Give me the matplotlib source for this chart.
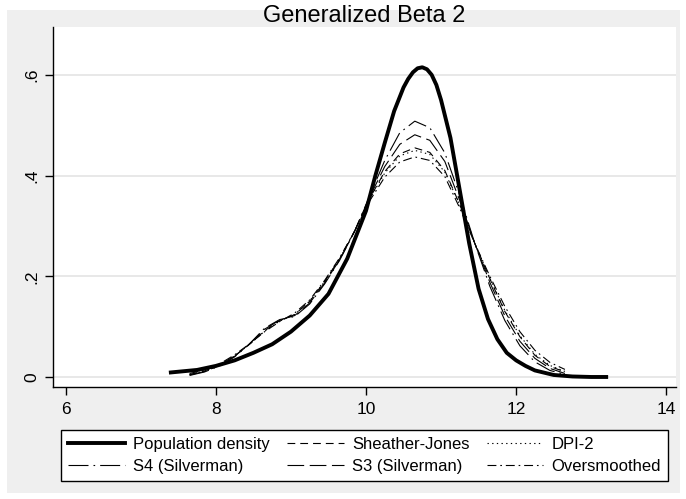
import matplotlib
matplotlib.use("Agg")
import matplotlib.pyplot as plt
from matplotlib.patches import Rectangle

plt.rcParams['font.family'] = ['Liberation Sans', 'DejaVu Sans']

# population density
pop_x = [7.4, 7.75, 8.0, 8.25, 8.5, 8.75, 9.0, 9.25, 9.5, 9.75, 10.0, 10.125, 10.25,
         10.375, 10.5, 10.5625, 10.625, 10.6875, 10.75, 10.8125, 10.875, 10.9375,
         11.0, 11.125, 11.25, 11.375, 11.5, 11.625, 11.75, 11.875, 12.0, 12.125,
         12.25, 12.5, 12.75, 13.0, 13.2]
pop_y = [0.009, 0.014, 0.022, 0.033, 0.048, 0.065, 0.090, 0.122, 0.165, 0.235, 0.330,
         0.400, 0.465, 0.528, 0.575, 0.592, 0.605, 0.613, 0.615, 0.611, 0.600, 0.580,
         0.550, 0.475, 0.370, 0.265, 0.175, 0.115, 0.075, 0.048, 0.033, 0.022,
         0.013, 0.004, 0.001, 0.0, 0.0]

# kernel estimates, common grid
kx = [7.65, 7.85, 8.05, 8.25, 8.45, 8.65, 8.85, 9.05, 9.25, 9.45, 9.65, 9.85, 10.05,
      10.25, 10.45, 10.65, 10.85, 11.05, 11.25, 11.45, 11.65, 11.85, 12.05, 12.25,
      12.45, 12.65]
sj = [0.005, 0.012, 0.024, 0.042, 0.065, 0.092, 0.112, 0.124, 0.150, 0.190, 0.235,
      0.290, 0.355, 0.408, 0.443, 0.455, 0.446, 0.410, 0.342, 0.265, 0.195, 0.130,
      0.080, 0.043, 0.021, 0.010]
dpi2 = [0.005, 0.012, 0.024, 0.042, 0.065, 0.091, 0.111, 0.124, 0.151, 0.190, 0.235,
        0.290, 0.354, 0.405, 0.439, 0.450, 0.442, 0.407, 0.341, 0.265, 0.196, 0.132,
        0.082, 0.045, 0.023, 0.011]
s4 = [0.003, 0.010, 0.022, 0.040, 0.066, 0.097, 0.114, 0.120, 0.145, 0.185, 0.232,
      0.290, 0.360, 0.430, 0.485, 0.508, 0.495, 0.445, 0.360, 0.265, 0.180, 0.112,
      0.062, 0.030, 0.013, 0.005]
s3 = [0.004, 0.011, 0.023, 0.041, 0.066, 0.095, 0.113, 0.122, 0.147, 0.187, 0.233,
      0.290, 0.358, 0.418, 0.462, 0.481, 0.470, 0.428, 0.350, 0.265, 0.188, 0.121,
      0.071, 0.037, 0.017, 0.007]
over = [0.007, 0.014, 0.026, 0.044, 0.066, 0.090, 0.110, 0.127, 0.153, 0.192, 0.237,
        0.290, 0.350, 0.397, 0.427, 0.437, 0.430, 0.398, 0.335, 0.265, 0.200, 0.140,
        0.090, 0.053, 0.029, 0.015]

xticks = [6, 8, 10, 12, 14]
yticks = [0, 0.2, 0.4, 0.6]
ylabels = ['0', '.2', '.4', '.6']

fig = plt.figure(figsize=(6.86, 4.99), dpi=100, facecolor='white')
# grey graph region behind everything
fig.patches.append(Rectangle((7 / 686, 6 / 499), 673 / 686, 483 / 499,
                             transform=fig.transFigure, facecolor='#efefef',
                             edgecolor='none', zorder=-10))

ax = fig.add_axes([53 / 686, (499 - 387) / 499, 623 / 686, 360 / 499])
ax.set_facecolor('white')

h_pop, = ax.plot(pop_x, pop_y, color='black', lw=2.8, label='Population density', zorder=5)
h_sj, = ax.plot(kx, sj, color='black', lw=0.8, dashes=(7, 4.5), label='Sheather-Jones')
h_dpi, = ax.plot(kx, dpi2, color='black', lw=0.8, dashes=(1.2, 3), label='DPI-2')
h_s4, = ax.plot(kx, s4, color='black', lw=0.8, dashes=(18, 4.5, 1.5, 4.5), label='S4 (Silverman)')
h_s3, = ax.plot(kx, s3, color='black', lw=0.8, dashes=(15, 5), label='S3 (Silverman)')
h_ov, = ax.plot(kx, over, color='black', lw=0.8, dashes=(8, 3.5, 1.5, 3.5), label='Oversmoothed')

ax.set_xlim(5.83, 14.13)
ax.set_ylim(-0.0199, 0.695)
ax.set_xticks(xticks)
ax.set_yticks(yticks)
ax.set_yticklabels(ylabels, rotation=90, va='center')
ax.tick_params(axis='both', direction='out', length=6, width=1, labelsize=12.5, colors='black')
ax.tick_params(axis='x', pad=4.5)
ax.yaxis.grid(True, color='#e4e4e4', lw=1.2)
ax.set_axisbelow(True)
for s in ['top', 'right']:
    ax.spines[s].set_visible(False)
for s in ['left', 'bottom']:
    ax.spines[s].set_linewidth(1)

fig.text(0.5 * (53 + 676) / 686, (499 - 16) / 499, 'Generalized Beta 2',
         ha='center', va='center', fontsize=17)

# legend is filled column by column, so order for rows
order = [h_pop, h_s4, h_sj, h_s3, h_dpi, h_ov]
leg = fig.legend(order, [h.get_label() for h in order], loc='center', ncol=3, mode='expand',
                 bbox_to_anchor=(61 / 686, 16 / 499, 607 / 686, 55 / 499),
                 borderaxespad=0, fontsize=12, frameon=True, fancybox=False,
                 edgecolor='black', handlelength=3.4, handletextpad=0.5,
                 columnspacing=0.6, labelspacing=0.45, borderpad=0.42)
leg.get_frame().set_linewidth(1)
leg.get_frame().set_facecolor('white')
leg.get_frame().set_alpha(1)

fig.savefig('out.png', dpi=100, facecolor=fig.get_facecolor())
